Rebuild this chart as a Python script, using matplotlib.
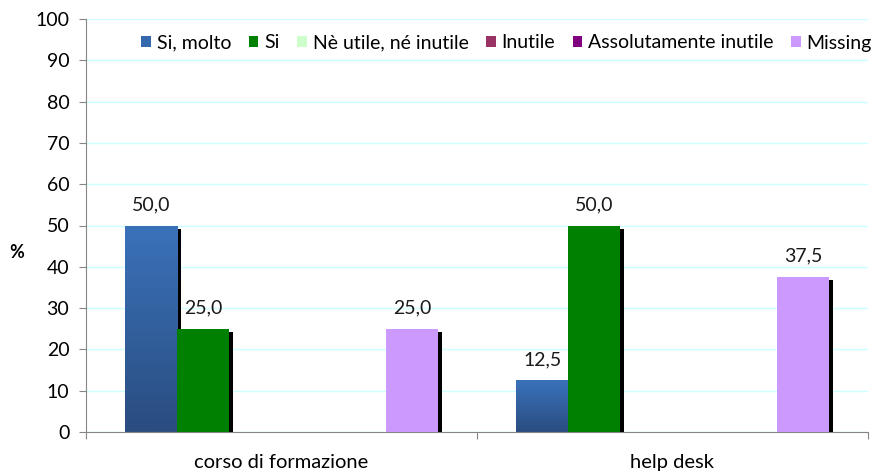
import matplotlib
matplotlib.use("Agg")
import matplotlib.pyplot as plt
import matplotlib.patheffects as pe
from matplotlib.colors import LinearSegmentedColormap
from matplotlib.patches import Rectangle
import numpy as np

plt.rcParams["font.family"] = ["Lato", "DejaVu Sans"]

# Data
categories = ["corso di formazione", "help desk"]
series_names = ["Si, molto", "Si", "Nè utile, né inutile", "Inutile",
                "Assolutamente inutile", "Missing"]
values = {
    "Si, molto": [50.0, 12.5],
    "Si": [25.0, 50.0],
    "Nè utile, né inutile": [0.0, 0.0],
    "Inutile": [0.0, 0.0],
    "Assolutamente inutile": [0.0, 0.0],
    "Missing": [25.0, 37.5],
}
colors = ["#3569AE", "#008000", "#CCFFCC", "#993366", "#800080", "#CC99FF"]

fig = plt.figure(figsize=(8.9, 4.72), dpi=100)
ax = fig.add_axes([86 / 890, 40 / 472, 782 / 890, 413 / 472])

x = np.arange(len(categories))
width = 0.8 / len(series_names)
shadow = [pe.SimplePatchShadow(offset=(2.8, -2.4), shadow_rgbFace="black", alpha=1.0),
          pe.Normal()]
grad_cmap = LinearSegmentedColormap.from_list("blue", ["#2A4D80", "#3A72BA"])

for i, name in enumerate(series_names):
    offs = x - 0.4 + width * (i + 0.5)
    vals = values[name]
    bars = ax.bar(offs, vals, width, color=colors[i], zorder=2 + i, linewidth=0)
    for b, v in zip(bars, vals):
        if v > 0:
            b.set_path_effects(shadow)
            ax.text(b.get_x() + b.get_width() / 2, v + 3.0, f"{v:.1f}".replace(".", ","),
                    ha="center", va="bottom", fontsize=14, color="#1a1a1a", zorder=20)
            if i == 0:
                grad = np.linspace(0, 1, 100).reshape(-1, 1)
                im = ax.imshow(grad, cmap=grad_cmap, origin="lower", aspect="auto",
                               extent=(b.get_x(), b.get_x() + b.get_width(), 0, v),
                               zorder=2 + i + 0.5)
                im.set_clip_path(b)

ax.set_xlim(-0.5, len(categories) - 0.5)
ax.set_ylim(0, 100)
ax.set_yticks(np.arange(0, 101, 10))
ax.set_xticks(np.arange(len(categories) + 1) - 0.5)
ax.set_xticklabels([])
ax.set_xticks(x, categories, minor=True)
ax.tick_params(axis="x", which="minor", length=0, pad=16, labelsize=14.5)
ax.tick_params(axis="x", which="major", length=5, color="#868686")
ax.tick_params(axis="y", length=5, color="#868686", labelsize=14, pad=7)

ax.yaxis.grid(True, color="#CCFFFF", linewidth=1, zorder=0)
ax.set_axisbelow(True)
for s in ["top", "right"]:
    ax.spines[s].set_visible(False)
for s in ["left", "bottom"]:
    ax.spines[s].set_color("#868686")

fig.text(17 / 890, (472 - 252) / 472, "%", fontsize=13,
         fontweight="bold", ha="center", va="center")

handles = [Rectangle((0, 0), 1, 1, color=c, linewidth=0) for c in colors]
fig.legend(handles, series_names, loc="center left", bbox_to_anchor=(141 / 890, (472 - 43) / 472),
           ncol=6, frameon=False, fontsize=14, handlelength=0.5, handleheight=0.5,
           handletextpad=0.3, columnspacing=0.9, borderaxespad=0, borderpad=0)

fig.savefig("out.png", dpi=100)
